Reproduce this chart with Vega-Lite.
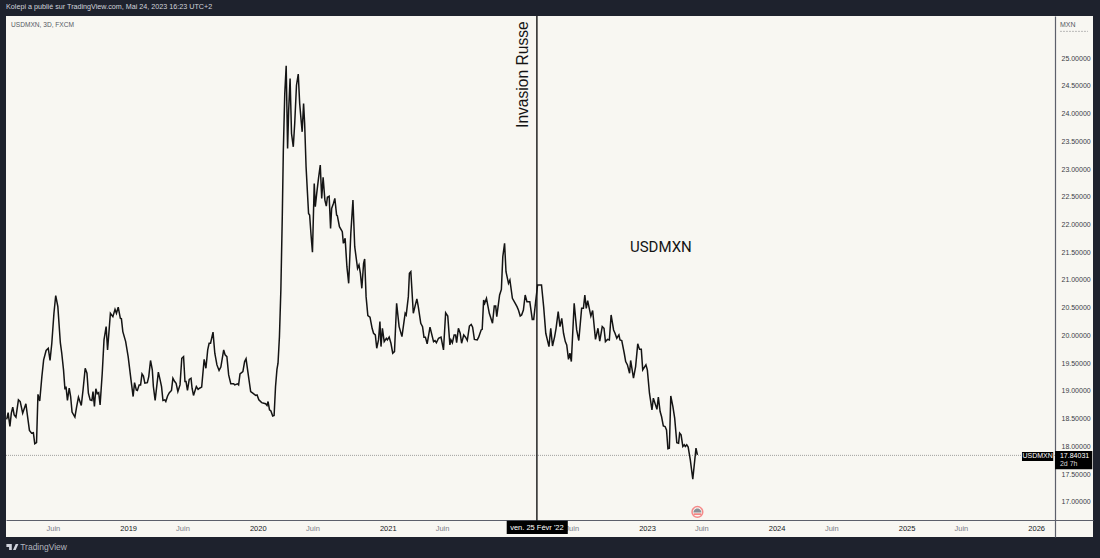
{
  "$schema": "https://vega.github.io/schema/vega-lite/v6.json",
  "autosize": "none",
  "width": 1087,
  "height": 521,
  "padding": {"left": 6, "top": 16, "right": 7, "bottom": 21},
  "background": "#1e222d",
  "view": {"fill": "#f8f7f2", "stroke": null},
  "title": {"text": "Kolepi a publié sur TradingView.com, Mai 24, 2023 16:23 UTC+2", "anchor": "start", "frame": "group", "offset": 5, "font": "Liberation Sans", "fontSize": 7.2, "fontWeight": "normal", "color": "#d1d4dc"},
  "config": {"font": "Liberation Sans"},
  "datasets": {
    "usdmxn": [
      {"date":"2018-01-24","close":18.49},{"date":"2018-01-28","close":18.61},{"date":"2018-02-02","close":18.36},{"date":"2018-02-06","close":18.60},{"date":"2018-02-10","close":18.71},{"date":"2018-02-14","close":18.57},{"date":"2018-02-19","close":18.53},{"date":"2018-02-26","close":18.84},{"date":"2018-03-03","close":18.81},{"date":"2018-03-10","close":18.60},{"date":"2018-03-19","close":18.77},{"date":"2018-03-25","close":18.48},{"date":"2018-03-29","close":18.29},{"date":"2018-04-04","close":18.24},{"date":"2018-04-09","close":18.25},{"date":"2018-04-13","close":18.05},{"date":"2018-04-18","close":18.07},{"date":"2018-04-22","close":18.94},{"date":"2018-04-27","close":18.82},{"date":"2018-05-03","close":19.26},{"date":"2018-05-08","close":19.56},{"date":"2018-05-15","close":19.73},{"date":"2018-05-21","close":19.77},{"date":"2018-05-26","close":19.55},{"date":"2018-05-31","close":19.86},{"date":"2018-06-06","close":20.40},{"date":"2018-06-11","close":20.72},{"date":"2018-06-17","close":20.52},{"date":"2018-06-24","close":19.87},{"date":"2018-06-28","close":19.68},{"date":"2018-07-03","close":19.38},{"date":"2018-07-07","close":19.03},{"date":"2018-07-10","close":19.08},{"date":"2018-07-14","close":18.83},{"date":"2018-07-19","close":19.05},{"date":"2018-07-23","close":18.90},{"date":"2018-07-27","close":18.62},{"date":"2018-08-04","close":18.53},{"date":"2018-08-09","close":18.72},{"date":"2018-08-14","close":18.89},{"date":"2018-08-22","close":18.74},{"date":"2018-08-27","close":19.02},{"date":"2018-09-02","close":19.41},{"date":"2018-09-07","close":19.32},{"date":"2018-09-11","close":18.96},{"date":"2018-09-16","close":18.84},{"date":"2018-09-21","close":18.83},{"date":"2018-09-24","close":18.99},{"date":"2018-09-28","close":18.72},{"date":"2018-10-02","close":19.04},{"date":"2018-10-06","close":18.95},{"date":"2018-10-10","close":18.97},{"date":"2018-10-14","close":18.75},{"date":"2018-10-20","close":19.32},{"date":"2018-10-25","close":19.92},{"date":"2018-10-31","close":20.16},{"date":"2018-11-04","close":19.74},{"date":"2018-11-12","close":20.40},{"date":"2018-11-19","close":20.34},{"date":"2018-11-25","close":20.47},{"date":"2018-11-29","close":20.40},{"date":"2018-12-04","close":20.51},{"date":"2018-12-10","close":20.31},{"date":"2018-12-13","close":20.30},{"date":"2018-12-17","close":20.07},{"date":"2018-12-25","close":19.89},
      {"date":"2019-01-01","close":19.62},{"date":"2019-01-09","close":19.20},{"date":"2019-01-15","close":18.90},{"date":"2019-01-19","close":19.15},{"date":"2019-01-24","close":19.02},{"date":"2019-01-27","close":19.01},{"date":"2019-02-01","close":19.11},{"date":"2019-02-05","close":19.11},{"date":"2019-02-09","close":19.31},{"date":"2019-02-13","close":19.27},{"date":"2019-02-17","close":19.14},{"date":"2019-02-24","close":19.15},{"date":"2019-02-28","close":19.26},{"date":"2019-03-05","close":19.55},{"date":"2019-03-10","close":19.38},{"date":"2019-03-13","close":19.08},{"date":"2019-03-18","close":18.83},{"date":"2019-03-27","close":19.34},{"date":"2019-04-01","close":19.20},{"date":"2019-04-05","close":19.08},{"date":"2019-04-09","close":18.83},{"date":"2019-04-14","close":18.84},{"date":"2019-04-17","close":18.81},{"date":"2019-04-22","close":18.91},{"date":"2019-04-27","close":18.97},{"date":"2019-05-03","close":19.01},{"date":"2019-05-07","close":19.23},{"date":"2019-05-12","close":19.17},{"date":"2019-05-16","close":19.14},{"date":"2019-05-21","close":18.99},{"date":"2019-05-27","close":19.11},{"date":"2019-06-01","close":19.59},{"date":"2019-06-06","close":19.62},{"date":"2019-06-10","close":19.17},{"date":"2019-06-13","close":19.17},{"date":"2019-06-17","close":19.01},{"date":"2019-06-22","close":19.21},{"date":"2019-06-27","close":19.23},{"date":"2019-06-30","close":19.05},{"date":"2019-07-04","close":18.92},{"date":"2019-07-12","close":19.08},{"date":"2019-07-17","close":19.03},{"date":"2019-07-21","close":19.05},{"date":"2019-07-27","close":19.07},{"date":"2019-08-03","close":19.57},{"date":"2019-08-08","close":19.41},{"date":"2019-08-13","close":19.74},{"date":"2019-08-17","close":19.86},{"date":"2019-08-21","close":19.86},{"date":"2019-08-28","close":20.06},{"date":"2019-09-02","close":19.68},{"date":"2019-09-08","close":19.47},{"date":"2019-09-14","close":19.37},{"date":"2019-09-19","close":19.43},{"date":"2019-09-27","close":19.74},{"date":"2019-10-01","close":19.65},{"date":"2019-10-06","close":19.62},{"date":"2019-10-11","close":19.29},{"date":"2019-10-17","close":19.13},{"date":"2019-10-25","close":19.13},{"date":"2019-10-28","close":19.11},{"date":"2019-11-05","close":19.13},{"date":"2019-11-08","close":19.11},{"date":"2019-11-12","close":19.31},{"date":"2019-11-20","close":19.35},{"date":"2019-11-25","close":19.53},{"date":"2019-11-29","close":19.58},{"date":"2019-12-06","close":19.26},{"date":"2019-12-12","close":18.99},{"date":"2019-12-18","close":18.96},{"date":"2019-12-26","close":18.92},{"date":"2019-12-30","close":18.93},
      {"date":"2020-01-04","close":18.84},{"date":"2020-01-12","close":18.79},{"date":"2020-01-23","close":18.77},{"date":"2020-01-27","close":18.74},{"date":"2020-01-30","close":18.81},{"date":"2020-02-03","close":18.66},{"date":"2020-02-07","close":18.64},{"date":"2020-02-12","close":18.55},{"date":"2020-02-16","close":18.56},{"date":"2020-02-20","close":19.08},{"date":"2020-02-24","close":19.39},{"date":"2020-02-27","close":19.50},{"date":"2020-03-02","close":19.98},{"date":"2020-03-06","close":20.82},{"date":"2020-03-10","close":22.14},{"date":"2020-03-13","close":23.34},{"date":"2020-03-17","close":24.36},{"date":"2020-03-21","close":24.86},{"date":"2020-03-25","close":23.37},{"date":"2020-03-28","close":24.06},{"date":"2020-04-01","close":24.63},{"date":"2020-04-05","close":23.64},{"date":"2020-04-10","close":23.40},{"date":"2020-04-14","close":23.82},{"date":"2020-04-19","close":24.51},{"date":"2020-04-24","close":24.71},{"date":"2020-04-28","close":24.18},{"date":"2020-05-02","close":23.88},{"date":"2020-05-05","close":23.67},{"date":"2020-05-09","close":24.18},{"date":"2020-05-12","close":23.82},{"date":"2020-05-16","close":23.04},{"date":"2020-05-20","close":22.56},{"date":"2020-05-23","close":22.20},{"date":"2020-05-26","close":22.17},{"date":"2020-05-30","close":21.81},{"date":"2020-06-03","close":21.50},{"date":"2020-06-08","close":22.74},{"date":"2020-06-11","close":22.32},{"date":"2020-06-15","close":22.56},{"date":"2020-06-20","close":22.83},{"date":"2020-06-25","close":23.07},{"date":"2020-06-29","close":22.47},{"date":"2020-07-03","close":22.85},{"date":"2020-07-08","close":22.44},{"date":"2020-07-12","close":22.33},{"date":"2020-07-15","close":22.49},{"date":"2020-07-20","close":22.51},{"date":"2020-07-24","close":21.93},{"date":"2020-07-27","close":22.29},{"date":"2020-08-01","close":22.38},{"date":"2020-08-05","close":22.47},{"date":"2020-08-10","close":22.17},{"date":"2020-08-12","close":22.16},{"date":"2020-08-18","close":21.96},{"date":"2020-08-26","close":21.87},{"date":"2020-08-29","close":21.66},{"date":"2020-09-03","close":21.75},{"date":"2020-09-08","close":21.24},{"date":"2020-09-13","close":20.94},{"date":"2020-09-19","close":21.84},{"date":"2020-09-25","close":22.44},{"date":"2020-09-30","close":21.60},{"date":"2020-10-08","close":21.21},{"date":"2020-10-12","close":21.27},{"date":"2020-10-16","close":21.12},{"date":"2020-10-20","close":20.85},{"date":"2020-10-25","close":21.30},{"date":"2020-10-28","close":21.38},{"date":"2020-11-01","close":20.70},{"date":"2020-11-06","close":20.36},{"date":"2020-11-12","close":20.33},{"date":"2020-11-18","close":20.13},{"date":"2020-11-22","close":20.04},{"date":"2020-11-27","close":20.01},{"date":"2020-12-01","close":19.77},{"date":"2020-12-06","close":19.92},{"date":"2020-12-10","close":20.25},{"date":"2020-12-13","close":19.80},{"date":"2020-12-17","close":20.13},{"date":"2020-12-22","close":19.89},{"date":"2020-12-28","close":19.95},{"date":"2020-12-31","close":19.92},
      {"date":"2021-01-05","close":19.97},{"date":"2021-01-10","close":19.86},{"date":"2021-01-15","close":19.68},{"date":"2021-01-20","close":19.71},{"date":"2021-01-26","close":20.58},{"date":"2021-02-02","close":20.16},{"date":"2021-02-10","close":19.98},{"date":"2021-02-19","close":20.40},{"date":"2021-02-22","close":20.37},{"date":"2021-02-28","close":20.70},{"date":"2021-03-03","close":21.12},{"date":"2021-03-07","close":21.15},{"date":"2021-03-14","close":20.40},{"date":"2021-03-24","close":20.66},{"date":"2021-03-28","close":20.52},{"date":"2021-04-04","close":20.22},{"date":"2021-04-09","close":20.16},{"date":"2021-04-13","close":19.97},{"date":"2021-04-17","close":19.97},{"date":"2021-04-22","close":19.85},{"date":"2021-04-30","close":20.15},{"date":"2021-05-10","close":19.89},{"date":"2021-05-14","close":19.91},{"date":"2021-05-18","close":19.87},{"date":"2021-05-24","close":19.95},{"date":"2021-05-31","close":19.97},{"date":"2021-06-07","close":19.74},{"date":"2021-06-13","close":20.41},{"date":"2021-06-19","close":20.35},{"date":"2021-06-25","close":19.83},{"date":"2021-06-28","close":19.92},{"date":"2021-07-02","close":19.87},{"date":"2021-07-07","close":20.01},{"date":"2021-07-11","close":20.01},{"date":"2021-07-14","close":19.87},{"date":"2021-07-19","close":20.13},{"date":"2021-07-24","close":20.04},{"date":"2021-07-28","close":19.86},{"date":"2021-08-03","close":20.01},{"date":"2021-08-08","close":19.97},{"date":"2021-08-13","close":19.91},{"date":"2021-08-19","close":20.17},{"date":"2021-08-24","close":20.20},{"date":"2021-08-28","close":20.15},{"date":"2021-09-02","close":19.93},{"date":"2021-09-10","close":19.92},{"date":"2021-09-14","close":19.97},{"date":"2021-09-21","close":20.10},{"date":"2021-09-24","close":20.11},{"date":"2021-09-28","close":20.64},{"date":"2021-10-01","close":20.58},{"date":"2021-10-06","close":20.67},{"date":"2021-10-14","close":20.40},{"date":"2021-10-23","close":20.22},{"date":"2021-10-28","close":20.53},{"date":"2021-11-01","close":20.53},{"date":"2021-11-04","close":20.34},{"date":"2021-11-12","close":20.73},{"date":"2021-11-17","close":20.83},{"date":"2021-11-21","close":21.42},{"date":"2021-11-26","close":21.66},{"date":"2021-11-30","close":21.15},{"date":"2021-12-07","close":20.94},{"date":"2021-12-11","close":21.00},{"date":"2021-12-18","close":20.67},{"date":"2021-12-26","close":20.58},{"date":"2021-12-31","close":20.52},
      {"date":"2022-01-04","close":20.46},{"date":"2022-01-09","close":20.35},{"date":"2022-01-13","close":20.37},{"date":"2022-01-18","close":20.46},{"date":"2022-01-23","close":20.73},{"date":"2022-01-28","close":20.61},{"date":"2022-02-05","close":20.61},{"date":"2022-02-12","close":20.29},{"date":"2022-02-16","close":20.29},{"date":"2022-02-22","close":20.64},{"date":"2022-02-27","close":20.91},{"date":"2022-03-10","close":20.91},{"date":"2022-03-16","close":20.52},{"date":"2022-03-22","close":20.04},{"date":"2022-03-31","close":19.80},{"date":"2022-04-05","close":20.13},{"date":"2022-04-10","close":19.81},{"date":"2022-04-16","close":19.98},{"date":"2022-04-20","close":20.13},{"date":"2022-04-26","close":20.43},{"date":"2022-05-01","close":20.16},{"date":"2022-05-06","close":20.31},{"date":"2022-05-11","close":20.04},{"date":"2022-05-16","close":19.89},{"date":"2022-05-20","close":19.83},{"date":"2022-05-25","close":19.57},{"date":"2022-05-29","close":19.68},{"date":"2022-06-02","close":19.53},{"date":"2022-06-10","close":20.58},{"date":"2022-06-17","close":20.10},{"date":"2022-06-23","close":19.91},{"date":"2022-07-01","close":20.49},{"date":"2022-07-06","close":20.49},{"date":"2022-07-10","close":20.73},{"date":"2022-07-14","close":20.49},{"date":"2022-07-18","close":20.63},{"date":"2022-07-27","close":20.35},{"date":"2022-08-01","close":20.45},{"date":"2022-08-09","close":19.93},{"date":"2022-08-16","close":20.13},{"date":"2022-08-21","close":19.90},{"date":"2022-08-28","close":20.16},{"date":"2022-09-02","close":20.13},{"date":"2022-09-06","close":19.89},{"date":"2022-09-12","close":19.93},{"date":"2022-09-17","close":19.92},{"date":"2022-09-22","close":20.37},{"date":"2022-09-29","close":20.10},{"date":"2022-10-03","close":20.04},{"date":"2022-10-08","close":19.95},{"date":"2022-10-14","close":20.01},{"date":"2022-10-17","close":19.92},{"date":"2022-10-22","close":19.91},{"date":"2022-10-29","close":19.68},{"date":"2022-11-02","close":19.53},{"date":"2022-11-07","close":19.47},{"date":"2022-11-13","close":19.32},{"date":"2022-11-16","close":19.55},{"date":"2022-11-24","close":19.23},{"date":"2022-11-30","close":19.44},{"date":"2022-12-06","close":19.85},{"date":"2022-12-11","close":19.75},{"date":"2022-12-16","close":19.75},{"date":"2022-12-20","close":19.38},{"date":"2022-12-29","close":19.47},
      {"date":"2023-01-02","close":19.38},{"date":"2023-01-08","close":18.96},{"date":"2023-01-15","close":18.66},{"date":"2023-01-19","close":18.87},{"date":"2023-01-25","close":18.75},{"date":"2023-01-29","close":18.67},{"date":"2023-02-02","close":18.89},{"date":"2023-02-07","close":18.63},{"date":"2023-02-11","close":18.54},{"date":"2023-02-16","close":18.37},{"date":"2023-02-21","close":18.36},{"date":"2023-02-25","close":18.30},{"date":"2023-03-01","close":17.96},{"date":"2023-03-05","close":17.97},{"date":"2023-03-09","close":18.91},{"date":"2023-03-15","close":18.72},{"date":"2023-03-20","close":18.51},{"date":"2023-03-26","close":18.07},{"date":"2023-03-31","close":18.06},{"date":"2023-04-03","close":18.24},{"date":"2023-04-07","close":18.21},{"date":"2023-04-12","close":18.00},{"date":"2023-04-16","close":18.03},{"date":"2023-04-19","close":18.00},{"date":"2023-04-23","close":18.03},{"date":"2023-04-27","close":17.99},{"date":"2023-05-03","close":17.76},{"date":"2023-05-10","close":17.41},{"date":"2023-05-19","close":17.97},{"date":"2023-05-23","close":17.85}
    ]
  },
  "layer": [
    {
      "data": {"name": "usdmxn"},
      "mark": {"type": "line", "color": "#141414", "strokeWidth": 1.5, "strokeJoin": "miter"},
      "encoding": {
        "x": {
          "field": "date",
          "type": "temporal",
          "scale": {"domain": [{"year": 2018, "month": 1, "date": 22}, {"year": 2026, "month": 6, "date": 10}]},
          "axis": {
            "title": null,
            "orient": "bottom",
            "offset": -17,
            "grid": false,
            "ticks": false,
            "domainColor": "#5d606b",
            "domainWidth": 1.2,
            "labelFont": "Liberation Sans",
            "labelFontSize": 7.5,
            "labelPadding": 4,
            "labelOverlap": false,
            "labelFlush": false,
            "labelBound": false,
            "labelColor": {"condition": {"test": "month(datum.value)==0", "value": "#131722"}, "value": "#787b86"},
            "labelExpr": "month(datum.value)==0 ? timeFormat(datum.value,'%Y') : 'Juin'",
            "values": [
              {"year": 2018, "month": 6, "date": 3}, {"year": 2019, "month": 1, "date": 1},
              {"year": 2019, "month": 6, "date": 3}, {"year": 2020, "month": 1, "date": 1},
              {"year": 2020, "month": 6, "date": 3}, {"year": 2021, "month": 1, "date": 1},
              {"year": 2021, "month": 6, "date": 3}, {"year": 2022, "month": 1, "date": 1},
              {"year": 2022, "month": 6, "date": 3}, {"year": 2023, "month": 1, "date": 1},
              {"year": 2023, "month": 6, "date": 3}, {"year": 2024, "month": 1, "date": 1},
              {"year": 2024, "month": 6, "date": 3}, {"year": 2025, "month": 1, "date": 1},
              {"year": 2025, "month": 6, "date": 3}, {"year": 2026, "month": 1, "date": 1}
            ]
          }
        },
        "y": {
          "field": "close",
          "type": "quantitative",
          "scale": {"domain": [16.369, 25.757], "nice": false, "zero": false},
          "axis": {
            "title": null,
            "orient": "right",
            "offset": -38,
            "grid": false,
            "ticks": false,
            "domainColor": "#5d606b",
            "domainWidth": 1.2,
            "labelFont": "Liberation Sans",
            "labelFontSize": 7,
            "labelPadding": 6,
            "labelColor": "#3a3d46",
            "labelOverlap": false,
            "labelSeparation": 0,
            "labelBound": false,
            "format": ".5f",
            "tickCount": 18,
            "values": [17, 17.5, 18, 18.5, 19, 19.5, 20, 20.5, 21, 21.5, 22, 22.5, 23, 23.5, 24, 24.5, 25]
          }
        }
      }
    },
    {
      "data": {"values": [{"price": 17.84}]},
      "mark": {"type": "rule", "color": "#8a8a8a", "strokeWidth": 0.8, "strokeDash": [1, 1]},
      "encoding": {
        "x": {"datum": {"year": 2018, "month": 1, "date": 22}, "type": "temporal"},
        "x2": {"datum": {"year": 2026, "month": 2, "date": 23}},
        "y": {"field": "price", "type": "quantitative"}
      }
    },
    {
      "data": {"values": [{"event": "Invasion Russe"}]},
      "mark": {"type": "rule", "color": "#141414", "strokeWidth": 1.4},
      "encoding": {
        "x": {"datum": {"year": 2022, "month": 2, "date": 25}, "type": "temporal"},
        "y": {"datum": 25.757, "type": "quantitative"},
        "y2": {"datum": 16.66}
      }
    },
    {
      "data": {"values": [{"label": "Invasion Russe"}]},
      "mark": {"type": "text", "angle": 270, "align": "left", "baseline": "middle", "font": "Liberation Sans", "fontSize": 15.6, "color": "#141414"},
      "encoding": {
        "x": {"datum": {"year": 2022, "month": 1, "date": 17}, "type": "temporal"},
        "y": {"datum": 23.74, "type": "quantitative"},
        "text": {"field": "label"}
      }
    },
    {
      "data": {"values": [{"label": "USDMXN"}]},
      "mark": {"type": "text", "align": "left", "baseline": "middle", "font": "Roboto", "fontSize": 15, "color": "#141414"},
      "encoding": {
        "x": {"datum": {"year": 2022, "month": 11, "date": 14}, "type": "temporal"},
        "y": {"datum": 21.60, "type": "quantitative"},
        "text": {"field": "label"}
      }
    },
    {
      "data": {"values": [{"label": "USDMXN, 3D, FXCM"}]},
      "mark": {"type": "text", "align": "left", "baseline": "middle", "font": "Liberation Sans", "fontSize": 6.6, "color": "#555963"},
      "encoding": {
        "x": {"datum": {"year": 2018, "month": 2, "date": 5}, "type": "temporal"},
        "y": {"datum": 25.60, "type": "quantitative"},
        "text": {"field": "label"}
      }
    },
    {
      "data": {"values": [{"label": "MXN"}]},
      "mark": {"type": "text", "align": "left", "baseline": "middle", "font": "Liberation Sans", "fontSize": 7, "color": "#555963"},
      "encoding": {
        "x": {"datum": {"year": 2026, "month": 3, "date": 9}, "type": "temporal"},
        "y": {"datum": 25.60, "type": "quantitative"},
        "text": {"field": "label"}
      }
    },
    {
      "data": {"values": [{"label": "MXN"}]},
      "mark": {"type": "rule", "color": "#a8a8a8", "strokeWidth": 0.8, "strokeDash": [2, 1]},
      "encoding": {
        "x": {"datum": {"year": 2026, "month": 3, "date": 9}, "type": "temporal"},
        "x2": {"datum": {"year": 2026, "month": 5, "date": 27}},
        "y": {"datum": 25.48, "type": "quantitative"}
      }
    },
    {
      "data": {"values": [{"label": "ven. 25 Févr '22"}]},
      "mark": {"type": "rect", "color": "#000000"},
      "encoding": {
        "x": {"datum": {"year": 2021, "month": 12, "date": 2}, "type": "temporal"},
        "x2": {"datum": {"year": 2022, "month": 5, "date": 23}},
        "y": {"datum": 16.663, "type": "quantitative"},
        "y2": {"datum": 16.423}
      }
    },
    {
      "data": {"values": [{"label": "ven. 25 Févr '22"}]},
      "mark": {"type": "text", "align": "center", "baseline": "middle", "font": "Liberation Sans", "fontSize": 7.5, "color": "#ffffff"},
      "encoding": {
        "x": {"datum": {"year": 2022, "month": 2, "date": 25}, "type": "temporal"},
        "y": {"datum": 16.54, "type": "quantitative"},
        "text": {"field": "label"}
      }
    },
    {
      "data": {"values": [{"label": "USDMXN"}]},
      "mark": {"type": "rect", "color": "#000000"},
      "encoding": {
        "x": {"datum": {"year": 2025, "month": 11, "date": 22}, "type": "temporal"},
        "x2": {"datum": {"year": 2026, "month": 2, "date": 18}},
        "y": {"datum": 17.90, "type": "quantitative"},
        "y2": {"datum": 17.74}
      }
    },
    {
      "data": {"values": [{"label": "USDMXN"}]},
      "mark": {"type": "text", "align": "center", "baseline": "middle", "font": "Liberation Sans", "fontSize": 7, "color": "#ffffff"},
      "encoding": {
        "x": {"datum": {"year": 2026, "month": 1, "date": 5}, "type": "temporal"},
        "y": {"datum": 17.82, "type": "quantitative"},
        "text": {"field": "label"}
      }
    },
    {
      "data": {"values": [{"label": "17.84031"}]},
      "mark": {"type": "rect", "color": "#000000"},
      "encoding": {
        "x": {"datum": {"year": 2026, "month": 2, "date": 23}, "type": "temporal"},
        "x2": {"datum": {"year": 2026, "month": 6, "date": 8}},
        "y": {"datum": 17.92, "type": "quantitative"},
        "y2": {"datum": 17.59}
      }
    },
    {
      "data": {"values": [{"label": "17.84031"}]},
      "mark": {"type": "text", "align": "left", "baseline": "middle", "font": "Liberation Sans", "fontSize": 7, "color": "#ffffff"},
      "encoding": {
        "x": {"datum": {"year": 2026, "month": 3, "date": 9}, "type": "temporal"},
        "y": {"datum": 17.83, "type": "quantitative"},
        "text": {"field": "label"}
      }
    },
    {
      "data": {"values": [{"label": "2d 7h"}]},
      "mark": {"type": "text", "align": "left", "baseline": "middle", "font": "Liberation Sans", "fontSize": 7, "color": "#d8d8d8"},
      "encoding": {
        "x": {"datum": {"year": 2026, "month": 3, "date": 9}, "type": "temporal"},
        "y": {"datum": 17.68, "type": "quantitative"},
        "text": {"field": "label"}
      }
    },
    {
      "data": {"values": [{"event": "earnings"}]},
      "mark": {"type": "point", "shape": "circle", "filled": false, "size": 115, "stroke": "#f58a8a", "strokeWidth": 1.5, "fill": "#f8f7f2", "fillOpacity": 1},
      "encoding": {
        "x": {"datum": {"year": 2023, "month": 5, "date": 23}, "type": "temporal"},
        "y": {"datum": 16.82, "type": "quantitative"}
      }
    },
    {
      "data": {"values": [{"event": "earnings"}]},
      "mark": {"type": "point", "shape": "M-0.85 0.1A0.85 0.85 0 0 1 0.85 0.1Z", "filled": true, "size": 90, "color": "#8c8f96", "opacity": 1},
      "encoding": {
        "x": {"datum": {"year": 2023, "month": 5, "date": 23}, "type": "temporal"},
        "y": {"datum": 16.82, "type": "quantitative"}
      }
    },
    {
      "data": {"values": [{"event": "earnings"}]},
      "mark": {"type": "point", "shape": "M-0.8 0.3H0.8V0.6H-0.8Z", "filled": true, "size": 90, "color": "#f26d6d", "opacity": 1},
      "encoding": {
        "x": {"datum": {"year": 2023, "month": 5, "date": 23}, "type": "temporal"},
        "y": {"datum": 16.82, "type": "quantitative"}
      }
    },
    {
      "data": {"values": [{"label": "TradingView"}]},
      "mark": {"type": "point", "shape": "M-1 -0.5H-0.1V0.5H-0.55V0H-1ZM0.1 0.5L0.55 -0.5H1L0.55 0.5Z", "filled": true, "size": 144, "color": "#d1d4dc", "opacity": 1},
      "encoding": {
        "x": {"datum": {"year": 2018, "month": 2, "date": 9}, "type": "temporal"},
        "y": {"datum": 16.19, "type": "quantitative"}
      }
    },
    {
      "data": {"values": [{"label": "TradingView"}]},
      "mark": {"type": "text", "align": "left", "baseline": "middle", "font": "Liberation Sans", "fontSize": 8.5, "color": "#b2b5be"},
      "encoding": {
        "x": {"datum": {"year": 2018, "month": 3, "date": 3}, "type": "temporal"},
        "y": {"datum": 16.19, "type": "quantitative"},
        "text": {"field": "label"}
      }
    }
  ]
}
